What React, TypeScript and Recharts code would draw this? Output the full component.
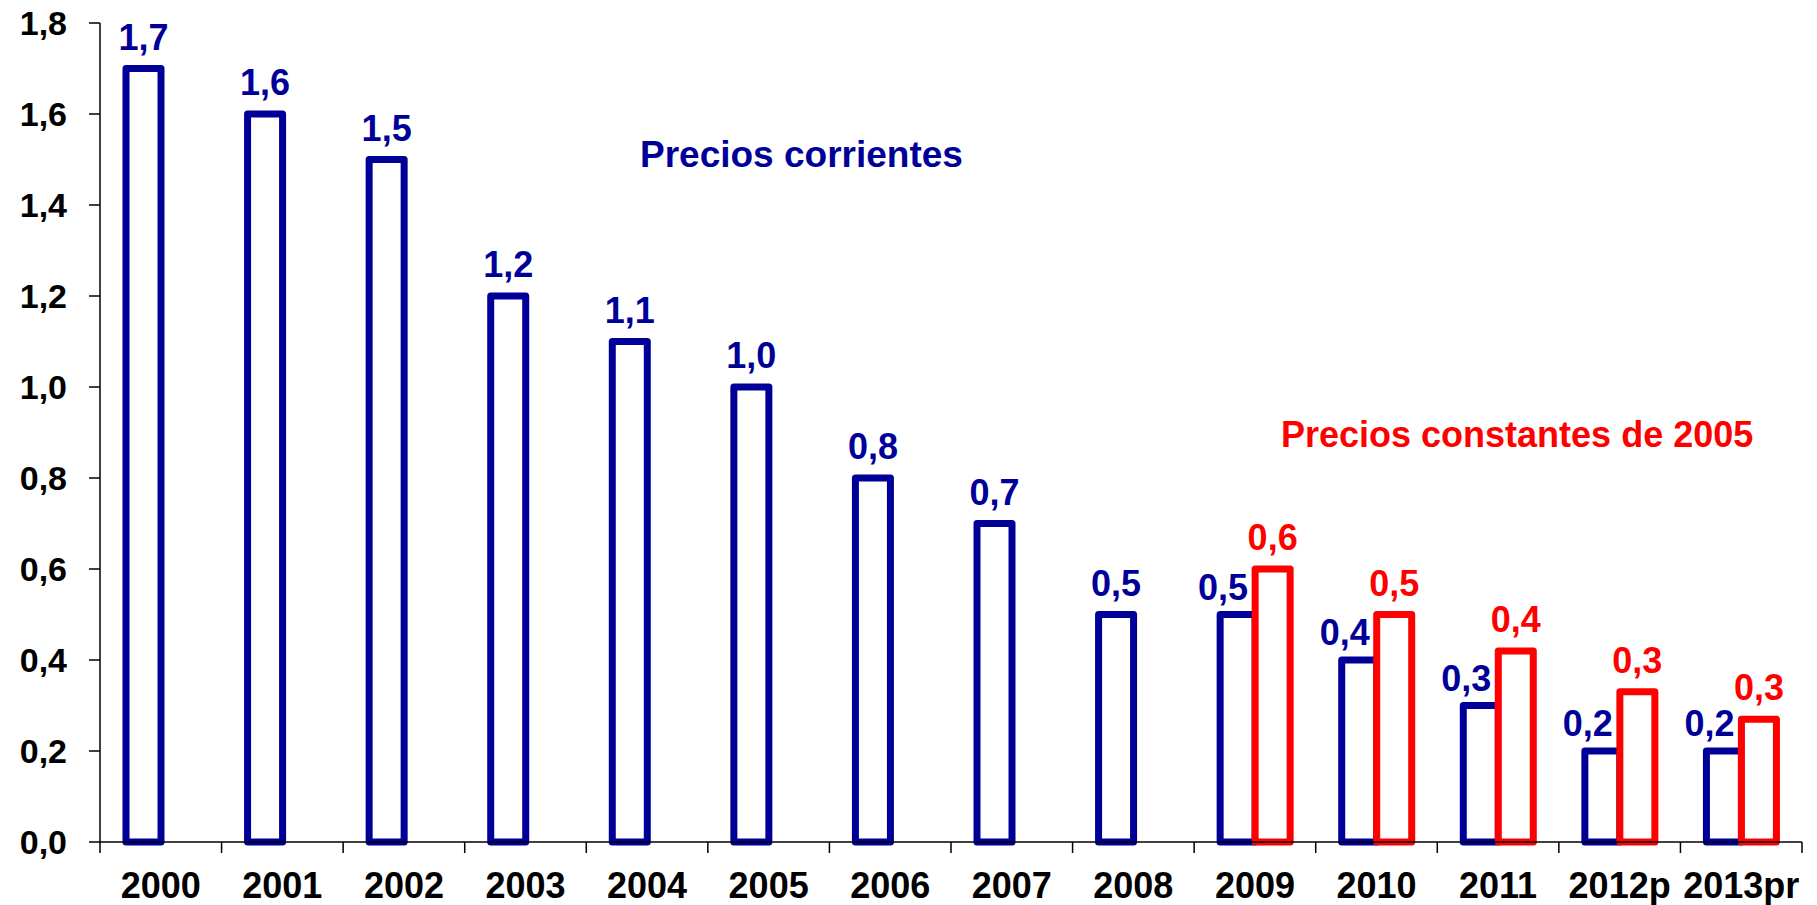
import React from 'react';
import { BarChart, Bar, XAxis, YAxis, LabelList } from 'recharts';

document.body.style.margin = '0';

const categories = ['2000', '2001', '2002', '2003', '2004', '2005', '2006', '2007', '2008', '2009', '2010', '2011', '2012p', '2013pr'];
const corrientes = [1.7, 1.6, 1.5, 1.2, 1.1, 1.0, 0.8, 0.7, 0.5, 0.5, 0.4, 0.3, 0.2, 0.2];
const constantes = [null, null, null, null, null, null, null, null, null, 0.6, 0.5, 0.42, 0.33, 0.27];
const yTicks = [0, 0.2, 0.4, 0.6, 0.8, 1.0, 1.2, 1.4, 1.6, 1.8];

const data = categories.map((year, i) => ({ year, corr: corrientes[i], cons: constantes[i] }));

const W = 1817;
const H = 905;
const AXIS_W = 100;
const RIGHT = 15;
const BAND = (W - AXIS_W - RIGHT) / categories.length;

const BLUE = '#000099';
const RED = '#ff0000';
const FONT = '"Liberation Sans", Arial, sans-serif';

const fmt = (v: number) => v.toFixed(1).replace('.', ',');

function OutlineBar(props: any) {
  const { x, y, width, height, stroke } = props;
  if (height == null || !(height > 0)) return null;
  return (
    <rect x={x} y={y} width={width} height={height} fill="#fff" stroke={stroke}
      strokeWidth={7} strokeLinejoin="round" />
  );
}

function XTick(props: any) {
  const { x, y, payload, index } = props;
  const left = x - BAND / 2;
  return (
    <g>
      <line x1={left} y1={y} x2={left} y2={y + 11} stroke="#000" strokeWidth={1.5} />
      {index === categories.length - 1 && (
        <line x1={x + BAND / 2} y1={y} x2={x + BAND / 2} y2={y + 11} stroke="#000" strokeWidth={1.5} />
      )}
      <text x={x} y={y + 56} textAnchor="middle" fontFamily={FONT} fontWeight="bold" fontSize={36} fill="#000">
        {payload.value}
      </text>
    </g>
  );
}

function BlueLabel(props: any) {
  const { x, y, width, value, index } = props;
  if (value == null) return null;
  const shifted = constantes[index] != null;
  return (
    <text
      x={shifted ? x + width - 7 : x + width / 2}
      y={shifted ? y - 15 : y - 19}
      textAnchor={shifted ? 'end' : 'middle'}
      fontFamily={FONT} fontWeight="bold" fontSize={36} fill={BLUE}
    >
      {fmt(value)}
    </text>
  );
}

function RedLabel(props: any) {
  const { x, y, width, value } = props;
  if (value == null) return null;
  return (
    <text x={x + width / 2} y={y - 19} textAnchor="middle" fontFamily={FONT} fontWeight="bold" fontSize={36} fill={RED}>
      {fmt(value)}
    </text>
  );
}

export default function App() {
  return (
    <div style={{ position: 'relative', width: W, height: H, background: '#fff' }}>
      <BarChart width={W} height={H} data={data} margin={{ top: 23, right: RIGHT, bottom: 0, left: 0 }}
        barSize={35} barGap={0}>
        <XAxis dataKey="year" height={63} interval={0} tickLine={false} tickSize={0} tickMargin={0}
          axisLine={{ stroke: '#000', strokeWidth: 1.5 }} tick={<XTick />} />
        <YAxis width={AXIS_W} domain={[0, 1.8]} ticks={yTicks} interval={0} tickFormatter={fmt}
          tickSize={11} tickMargin={22}
          axisLine={{ stroke: '#000', strokeWidth: 1.5 }} tickLine={{ stroke: '#000', strokeWidth: 1.5 }}
          tick={{ fontFamily: FONT, fontWeight: 'bold', fontSize: 34, fill: '#000' }} />
        <Bar dataKey="corr" stroke={BLUE} shape={<OutlineBar />} isAnimationActive={false}>
          <LabelList dataKey="corr" content={<BlueLabel />} />
        </Bar>
        <Bar dataKey="cons" stroke={RED} shape={<OutlineBar />} isAnimationActive={false}>
          <LabelList dataKey="cons" content={<RedLabel />} />
        </Bar>
      </BarChart>
      <svg width={W} height={H} style={{ position: 'absolute', left: 0, top: 0, pointerEvents: 'none' }}>
        <text x={640} y={167} fontFamily={FONT} fontWeight="bold" fontSize={37} fill={BLUE}>Precios corrientes</text>
        <text x={1281} y={447} fontFamily={FONT} fontWeight="bold" fontSize={36} fill={RED}>Precios constantes de 2005</text>
      </svg>
    </div>
  );
}
